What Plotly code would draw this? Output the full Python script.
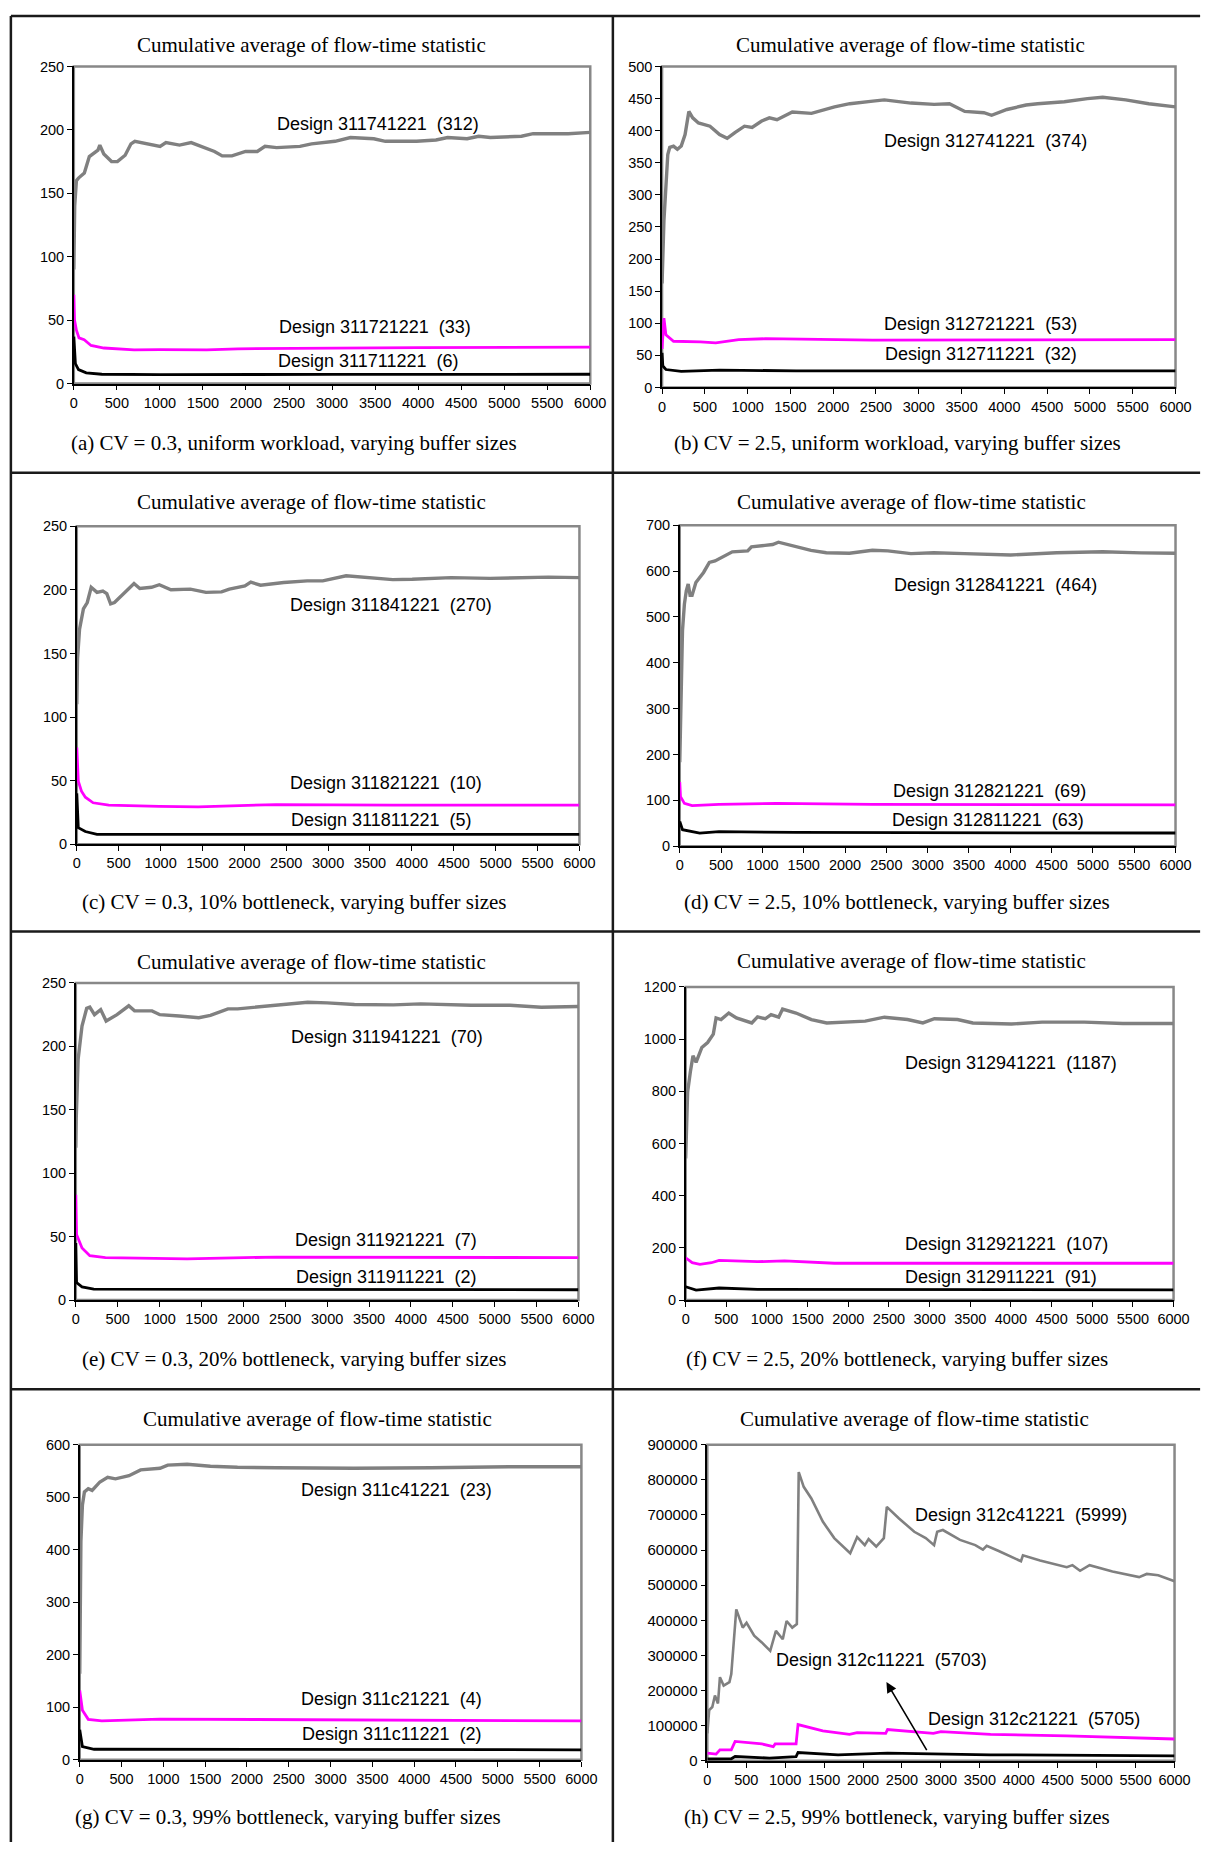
import plotly.graph_objects as go

# ---------------------------------------------------------------------------
# Cumulative average of the flow-time statistic for eight experiments.
# Each experiment has three designs (large buffer = gray, medium = magenta,
# small = black).  x = number of completed jobs, y = cumulative average.
# ---------------------------------------------------------------------------

# (a) CV = 0.3, uniform workload
A_GRAY_X = [0, 10, 30, 54, 122, 180, 280, 302, 348, 438, 506, 596, 664, 709, 1002, 1070, 1228, 1363, 1634, 1724,
            1837, 1995, 2131, 2221, 2356, 2627, 2762, 3034, 3214, 3485, 3620, 3982, 4208, 4343, 4569, 4704, 4840,
            5201, 5336, 5743, 6000]
A_GRAY_Y = [90, 140, 160, 162, 166, 179, 184, 188, 181, 175, 175, 180, 189, 191, 187, 190, 188, 190, 183, 179.5,
            179.5, 183, 183, 187, 186, 187, 189, 191, 194, 193, 191, 191, 192, 194, 193, 195, 194,
            195, 197, 197, 198]
A_MAG_X = [0, 8, 30, 60, 120, 200, 350, 700, 1000, 1544, 1905, 2808, 4000, 6000]
A_MAG_Y = [70, 50, 42, 36, 34.5, 30, 28, 26.6, 26.8, 26.6, 27.4, 28, 28.3, 28.7]
A_BLK_X = [0, 8, 18, 54, 144, 325, 1002, 3000, 6000]
A_BLK_Y = [37, 22, 15.7, 11, 8.4, 7.3, 7, 7.2, 7.3]

# (b) CV = 2.5, uniform workload
B_GRAY_X = [0, 22, 67, 90, 134, 179, 224, 269, 313, 358, 425, 560, 672, 761, 851, 963, 1052, 1164, 1254, 1343,
            1522, 1746, 2015, 2194, 2463, 2597, 2910, 3179, 3358, 3537, 3761, 3851, 4030, 4254, 4388, 4701, 4970,
            5149, 5418, 5687, 6000]
B_GRAY_Y = [162, 260, 363, 374, 376, 371, 376, 394, 430, 420, 412, 407, 394, 388, 397, 407, 405, 415, 420, 417,
            429, 427, 437, 442, 446, 448, 443, 441, 442, 430, 428, 424, 433, 440, 442, 445, 450,
            452, 448, 442, 437]
B_MAG_X = [0, 12, 22, 45, 134, 448, 627, 896, 1209, 2463, 3806, 6000]
B_MAG_Y = [60, 95, 108, 82, 72, 71, 69.6, 74.7, 76, 73.7, 73.7, 74.7]
B_BLK_X = [0, 9, 45, 224, 672, 1567, 6000]
B_BLK_Y = [54, 33.5, 28, 25, 27, 26, 26]

# (c) CV = 0.3, 10% bottleneck
C_GRAY_X = [0, 9, 33, 79, 125, 172, 241, 311, 358, 404, 450, 683, 752, 892, 985, 1124, 1356, 1542, 1728, 1821,
            2007, 2077, 2193, 2471, 2750, 2936, 3215, 3540, 3772, 4004, 4469, 4933, 5630, 6000]
C_GRAY_Y = [110, 146, 169, 185, 190, 202, 198, 199, 197, 189, 190, 205, 201, 202, 204, 200, 200.5, 198, 198.4, 200.5,
            203, 206, 203.6, 205.7, 207, 207, 211, 209, 208, 208.3, 209.6, 209, 210, 209.6]
C_MAG_X = [0, 18, 56, 102, 195, 381, 985, 1449, 2379, 3772, 6000]
C_MAG_Y = [76, 49.5, 41.7, 37, 32.6, 30.7, 29.7, 29.4, 31.2, 30.7, 30.7]
C_BLK_X = [0, 9, 18, 102, 241, 6000]
C_BLK_Y = [40, 31, 13, 10, 7.8, 7.8]

# (d) CV = 2.5, 10% bottleneck
D_GRAY_X = [0, 9, 33, 56, 79, 102, 125, 149, 195, 288, 358, 427, 497, 566, 636, 822, 868, 1031, 1124, 1194,
            1356, 1588, 1774, 2053, 2332, 2518, 2797, 3075, 3447, 4004, 4562, 5119, 5583, 6000]
D_GRAY_Y = [183, 269, 470, 528, 557, 572, 547, 547, 575, 597, 619, 622, 629, 637, 642, 644, 653, 656, 658, 663,
            655, 645, 640, 639, 645.5, 644, 638, 640, 638, 635, 640, 642, 639.6, 639]
D_MAG_X = [0, 9, 56, 149, 474, 1170, 2332, 6000]
D_MAG_Y = [140, 108, 93.5, 88.5, 91.4, 93.5, 91.4, 90]
D_BLK_X = [0, 33, 241, 474, 1403, 6000]
D_BLK_Y = [54, 36, 28.8, 32, 30, 28.8]

# (e) CV = 0.3, 20% bottleneck
E_GRAY_X = [0, 5, 28, 74, 130, 167, 223, 297, 362, 492, 632, 701, 910, 1003, 1235, 1468, 1607, 1816, 1932, 2164,
            2489, 2768, 3000, 3326, 3791, 4116, 4720, 5184, 5556, 6000]
E_GRAY_Y = [120, 143, 190, 216, 230, 231, 225, 229, 220, 225, 232, 228, 228, 225, 224, 222.6, 224.4, 229.6, 229.6, 231,
            233.5, 234.8, 234.3, 233, 232.7, 233.5, 232.4, 232.4, 230.8, 231.5]
E_MAG_X = [0, 9, 74, 167, 353, 1003, 1328, 2397, 6000]
E_MAG_Y = [83, 51.7, 41, 35, 33.4, 32.9, 32.4, 33.9, 33.4]
E_BLK_X = [0, 9, 74, 214, 6000]
E_BLK_Y = [45, 13.8, 10.4, 8.6, 8.1]

# (f) CV = 2.5, 20% bottleneck
F_GRAY_X = [0, 24, 57, 90, 128, 199, 270, 340, 374, 435, 530, 624, 813, 884, 979, 1050, 1144, 1192, 1357, 1546,
            1735, 2208, 2444, 2728, 2917, 3059, 3343, 3532, 4005, 4383, 4903, 5376, 6000]
F_GRAY_Y = [543, 797, 873, 936, 911, 968, 987, 1019, 1081, 1075, 1100, 1081, 1062, 1085, 1078, 1094, 1084, 1115, 1100,
            1075, 1062, 1069, 1084, 1075, 1062, 1078, 1075, 1062, 1058, 1065, 1065, 1060, 1060]
F_MAG_X = [0, 80, 175, 317, 411, 884, 1215, 1830, 6000]
F_MAG_Y = [162, 143, 137, 143, 152, 147, 150, 141, 141]
F_BLK_X = [0, 128, 411, 884, 6000]
F_BLK_Y = [51, 38, 46, 41, 39]

# (g) CV = 0.3, 99% bottleneck
G_GRAY_X = [0, 14, 32, 56, 102, 148, 241, 334, 427, 589, 728, 960, 1052, 1284, 1563, 1887, 2351, 3278, 4206, 5133, 6000]
G_GRAY_Y = [164, 416, 485, 510, 516, 513, 529, 538, 535, 541, 552, 555, 561, 562.6, 559, 557, 556, 555, 556, 558, 558]
G_MAG_X = [0, 32, 102, 264, 960, 6000]
G_MAG_Y = [132, 94.5, 77, 74, 77.5, 74]
G_BLK_X = [0, 32, 172, 6000]
G_BLK_Y = [57, 25, 20, 19]

# (h) CV = 2.5, 99% bottleneck
H_GRAY_X = [0, 24, 64, 98, 137, 162, 210, 284, 308, 343, 372, 455, 504, 602, 700, 808, 881, 969, 1018, 1091,
            1150, 1174, 1238, 1336, 1483, 1630, 1835, 1924, 2022, 2071, 2169, 2267, 2305, 2462, 2658, 2805, 2912,
            2952, 3025, 3245, 3441, 3539, 3588, 3735, 4028, 4053, 4273, 4616, 4689, 4787, 4909, 5203, 5545, 5643,
            5790, 6000]
H_GRAY_Y = [78000, 144000, 153000, 186000, 163000, 238000, 214000, 224000, 247000, 342000, 431000, 379000, 393000,
            356000, 337000, 313000, 370000, 346000, 398000, 379000, 389000, 822000, 780000, 747000, 681000, 634000,
            591000, 637000, 614000, 631000, 610000, 634000, 723000, 690000, 652000, 634000, 614000, 652000, 657000,
            629000, 614000, 601000, 612000, 598000, 568000, 585000, 570000, 551000, 557000, 541000, 557000, 539000,
            523000, 532000, 528000, 511000]
H_MAG_X = [0, 113, 162, 308, 357, 700, 847, 871, 1140, 1165, 1483, 1826, 1924, 2291, 2315, 2903, 3000, 3637, 4616, 6000]
H_MAG_Y = [22000, 19000, 31000, 31000, 55000, 48000, 40000, 48000, 48000, 103000, 85000, 75000, 80000, 78000, 89000,
           78000, 83000, 75000, 70600, 62000]
H_BLK_X = [0, 308, 357, 798, 1140, 1165, 1679, 2315, 3637, 6000]
H_BLK_Y = [5000, 5600, 12000, 7500, 12000, 23500, 17000, 21600, 17000, 14000]

# Design labels (gray, magenta, black) per panel
A_LABELS = ["Design 311741221  (312)", "Design 311721221  (33)", "Design 311711221  (6)"]
B_LABELS = ["Design 312741221  (374)", "Design 312721221  (53)", "Design 312711221  (32)"]
C_LABELS = ["Design 311841221  (270)", "Design 311821221  (10)", "Design 311811221  (5)"]
D_LABELS = ["Design 312841221  (464)", "Design 312821221  (69)", "Design 312811221  (63)"]
E_LABELS = ["Design 311941221  (70)", "Design 311921221  (7)", "Design 311911221  (2)"]
F_LABELS = ["Design 312941221  (1187)", "Design 312921221  (107)", "Design 312911221  (91)"]
G_LABELS = ["Design 311c41221  (23)", "Design 311c21221  (4)", "Design 311c11221  (2)"]
H_LABELS = ["Design 312c41221  (5999)", "Design 312c21221  (5705)", "Design 312c11221  (5703)"]

CAPTIONS = [
    "(a) CV = 0.3, uniform workload, varying buffer sizes",
    "(b) CV = 2.5, uniform workload, varying buffer sizes",
    "(c) CV = 0.3, 10% bottleneck, varying buffer sizes",
    "(d) CV = 2.5, 10% bottleneck, varying buffer sizes",
    "(e) CV = 0.3, 20% bottleneck, varying buffer sizes",
    "(f) CV = 2.5, 20% bottleneck, varying buffer sizes",
    "(g) CV = 0.3, 99% bottleneck, varying buffer sizes",
    "(h) CV = 2.5, 99% bottleneck, varying buffer sizes",
]
TITLE = "Cumulative average of flow-time statistic"
X_TICKS = [0, 500, 1000, 1500, 2000, 2500, 3000, 3500, 4000, 4500, 5000, 5500, 6000]
Y_MAX = [250, 500, 250, 700, 250, 1200, 600, 900000]
Y_STEP = [50, 50, 50, 100, 50, 200, 100, 100000]

# ---------------------------------------------------------------------------
# Layout (pixel geometry of the 1223 x 1850 page)
# ---------------------------------------------------------------------------
W, H = 1223, 1850
PLOT_BOX = [  # x0, x1, y_top, y_bottom of each plotting area
    (71, 596, 58, 378), (669, 1191, 58, 382),
    (74, 585, 522, 843), (687, 1191, 521, 845),
    (73, 584, 983, 1303), (693, 1189, 987, 1303),
    (77, 587, 1449, 1767), (715, 1190, 1449, 1768),
]
TITLE_POS = [(313, 36), (922, 36), (313, 498), (923, 498), (313, 962), (923, 961), (319, 1423), (926, 1423)]
CAPTION_POS = [(295, 438), (908, 438), (295, 901), (908, 901), (295, 1363), (908, 1363), (289, 1825), (908, 1825)]
# label anchor points in data units (gray, magenta, black)
LABEL_POS = [
    [(3535, 204.5), (3494, 44.4), (3413, 17.5)],
    [(3780, 384), (3722, 99), (3722, 52.6)],
    [(3753, 188), (3697, 48), (3637, 19)],
    [(3818, 570), (3753, 120), (3730, 57.6)],
    [(3716, 207), (3702, 47), (3702, 18.5)],
    [(4005, 908), (3943, 213), (3882, 90)],
    [(3788, 513), (3728, 115), (3728, 49)],
    [(4028, 700000), (4200, 120000), (2242, 287000)],
]

SERIES = [
    (A_GRAY_X, A_GRAY_Y, A_MAG_X, A_MAG_Y, A_BLK_X, A_BLK_Y, A_LABELS),
    (B_GRAY_X, B_GRAY_Y, B_MAG_X, B_MAG_Y, B_BLK_X, B_BLK_Y, B_LABELS),
    (C_GRAY_X, C_GRAY_Y, C_MAG_X, C_MAG_Y, C_BLK_X, C_BLK_Y, C_LABELS),
    (D_GRAY_X, D_GRAY_Y, D_MAG_X, D_MAG_Y, D_BLK_X, D_BLK_Y, D_LABELS),
    (E_GRAY_X, E_GRAY_Y, E_MAG_X, E_MAG_Y, E_BLK_X, E_BLK_Y, E_LABELS),
    (F_GRAY_X, F_GRAY_Y, F_MAG_X, F_MAG_Y, F_BLK_X, F_BLK_Y, F_LABELS),
    (G_GRAY_X, G_GRAY_Y, G_MAG_X, G_MAG_Y, G_BLK_X, G_BLK_Y, G_LABELS),
    (H_GRAY_X, H_GRAY_Y, H_MAG_X, H_MAG_Y, H_BLK_X, H_BLK_Y, H_LABELS),
]

GRAY, MAGENTA, BLACK = "#808080", "#ff00ff", "#000000"
SANS = "Liberation Sans, Arial, sans-serif"
SERIF = "Liberation Serif, Times New Roman, serif"


def px_x(x):
    return x / W


def px_y(y):
    return 1 - y / H


fig = go.Figure()
annotations = []
shapes = []
layout_axes = {}

for i, (gx, gy, mx, my, bx, by, labels) in enumerate(SERIES):
    n = "" if i == 0 else str(i + 1)
    xa, ya = "x" + n, "y" + n
    x0, x1, yt, yb = PLOT_BOX[i]
    lw_gray = 2.6 if i == 7 else 3.4
    for xs, ys, col, lw in ((gx, gy, GRAY, lw_gray), (mx, my, MAGENTA, 2.8), (bx, by, BLACK, 2.8)):
        fig.add_trace(go.Scatter(x=xs, y=ys, mode="lines", line=dict(color=col, width=lw),
                                 xaxis=xa, yaxis=ya, showlegend=False, hoverinfo="skip"))

    layout_axes["xaxis" + n] = dict(
        domain=[px_x(x0), px_x(x1)], anchor=ya, range=[0, 6000], tickvals=X_TICKS,
        showgrid=False, zeroline=False, showline=True, linecolor="black", linewidth=1.5,
        ticks="outside", ticklen=5, tickwidth=1, tickcolor="black",
        tickfont=dict(family=SANS, size=14.5, color="black"), fixedrange=True,
    )
    yticks = list(range(0, Y_MAX[i] + 1, Y_STEP[i]))
    layout_axes["yaxis" + n] = dict(
        domain=[px_y(yb), px_y(yt)], anchor=xa, range=[0, Y_MAX[i]], tickvals=yticks,
        tickformat="d",
        showgrid=False, zeroline=False, showline=True, linecolor="black", linewidth=1.5,
        ticks="outside", ticklen=5, tickwidth=1, tickcolor="black",
        tickfont=dict(family=SANS, size=15 if i == 7 else 14.5, color="black"), fixedrange=True,
    )
    # gray plot-area frame
    shapes.append(dict(type="rect", xref=xa + " domain", yref=ya + " domain", x0=0, x1=1, y0=0, y1=1,
                       line=dict(color="#888888", width=2.5), layer="below"))

    tx, ty = TITLE_POS[i]
    annotations.append(dict(text=TITLE, x=px_x(tx), y=px_y(ty), xref="paper", yref="paper",
                            xanchor="center", yanchor="middle", showarrow=False,
                            font=dict(family=SERIF, size=21, color="black")))
    cx, cy = CAPTION_POS[i]
    annotations.append(dict(text=CAPTIONS[i], x=px_x(cx), y=px_y(cy), xref="paper", yref="paper",
                            xanchor="center", yanchor="middle", showarrow=False,
                            font=dict(family=SERIF, size=21, color="black")))
    for lab, (lx, ly) in zip(labels, LABEL_POS[i]):
        annotations.append(dict(text=lab, x=lx, y=ly, xref=xa, yref=ya, xanchor="center", yanchor="middle",
                                showarrow=False, font=dict(family=SANS, size=18, color="black")))

# arrow pointing from the black curve of panel (h) to its label
annotations.append(dict(text="", x=2300, y=224000, ax=2829, ay=26000, xref="x8", yref="y8",
                        axref="x8", ayref="y8", showarrow=True, arrowhead=2, arrowsize=1.3,
                        arrowwidth=1.6, arrowcolor="black", standoff=0, startstandoff=0))

# panel borders
BORDER = "#1a1a1a"
for y in (7, 468, 931, 1393):
    shapes.append(dict(type="line", xref="paper", yref="paper", x0=px_x(7), x1=px_x(1216),
                       y0=px_y(y), y1=px_y(y), line=dict(color=BORDER, width=2.5)))
for x in (7, 619):
    shapes.append(dict(type="line", xref="paper", yref="paper", x0=px_x(x), x1=px_x(x),
                       y0=px_y(7), y1=0, line=dict(color=BORDER, width=2.5)))

fig.update_layout(
    width=W, height=H, margin=dict(l=0, r=0, t=0, b=0),
    paper_bgcolor="white", plot_bgcolor="white",
    showlegend=False, annotations=annotations, shapes=shapes, **layout_axes,
)

fig.write_html("out.html", config={"displayModeBar": False})
